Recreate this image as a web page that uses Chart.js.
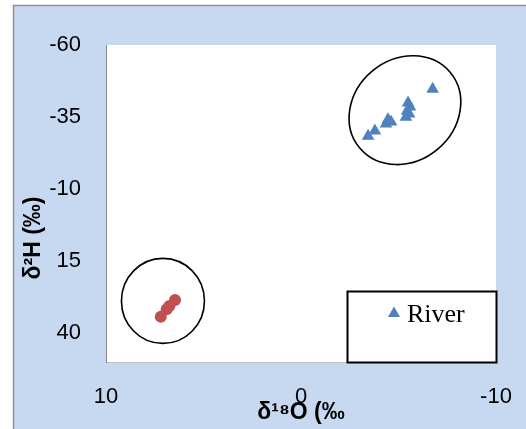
<!DOCTYPE html>
<html>
<head>
<meta charset="utf-8">
<title>δ18O vs δ2H</title>
<script src="https://cdn.jsdelivr.net/npm/chart.js@4.4.1/dist/chart.umd.min.js"></script>
<style>
  html, body { margin: 0; padding: 0; background: #ffffff; }
  canvas { display: block; }
</style>
</head>
<body>
<canvas id="chart" width="526" height="429"></canvas>
<script>
// Isotope samples: δ18O (‰) on x, δ2H (‰) on y
const riverO18 = [-6.75, -5.49, -5.59, -5.44, -5.54, -5.38, -4.46, -4.62, -4.36, -3.79, -3.44];
const riverH2  = [-44.7, -39.9, -38.5, -37.1, -36.1, -35.0, -34.1, -33.3, -32.6, -30.2, -28.4];

const secondO18 = [6.46, 6.75, 6.89, 7.19];
const secondH2  = [28.5, 30.6, 31.7, 34.3];

const xTicks = [10, 0, -10];
const yTicks = [-60, -35, -10, 15, 40];

// Group outlines: centre given in data units
const groupCentreO18 = [-5.33, 7.08];
const groupCentreH2  = [-37.4, 28.8];

const BG_BLUE = '#c6d9f0';
const RIVER_BLUE = '#4f81bd';
const DOT_RED = '#c0504d';

function pairs(xs, ys) { return xs.map((x, i) => ({ x, y: ys[i] })); }

// Outline sizes for each group (pixels) and tilt
const outlineStyle = [
  { rx: 59, ry: 51, rot: -40 },
  { rx: 41.5, ry: 42.5, rot: 0 }
];

const frame = {
  id: 'frame',
  beforeDraw(chart) {
    const { ctx, chartArea: a } = chart;
    ctx.save();
    ctx.fillStyle = '#ffffff';
    ctx.fillRect(0, 0, chart.width, chart.height);
    ctx.fillStyle = BG_BLUE;
    ctx.fillRect(13, 5, chart.width - 13, chart.height - 5);
    ctx.strokeStyle = '#909090';
    ctx.lineWidth = 1.5;
    ctx.beginPath();
    ctx.moveTo(13.5, chart.height);
    ctx.lineTo(13.5, 5.5);
    ctx.lineTo(chart.width, 5.5);
    ctx.stroke();
    ctx.fillStyle = '#ffffff';
    ctx.fillRect(a.left, a.top, a.right - a.left, a.bottom - a.top);
    ctx.restore();
  },
  afterDatasetsDraw(chart) {
    const { ctx, scales: { x, y } } = chart;
    ctx.save();
    // group outlines
    ctx.strokeStyle = '#000000';
    ctx.lineWidth = 1.6;
    groupCentreO18.forEach((cx, i) => {
      const s = outlineStyle[i];
      ctx.beginPath();
      ctx.ellipse(x.getPixelForValue(cx), y.getPixelForValue(groupCentreH2[i]),
                  s.rx, s.ry, s.rot * Math.PI / 180, 0, Math.PI * 2);
      ctx.stroke();
    });
    // y axis title
    ctx.fillStyle = '#000000';
    ctx.font = 'bold 23px "Liberation Sans", Arial, sans-serif';
    ctx.textAlign = 'center';
    ctx.textBaseline = 'middle';
    ctx.translate(34, 238);
    ctx.rotate(-Math.PI / 2);
    ctx.fillText('δ²H (‰)', 0, 0);
    ctx.restore();

    // legend box
    ctx.save();
    const ds = chart.data.datasets[0];
    ctx.fillStyle = '#ffffff';
    ctx.fillRect(347.5, 291.5, 149, 71);
    ctx.strokeStyle = '#000000';
    ctx.lineWidth = 2;
    ctx.strokeRect(347.5, 291.5, 149, 71);
    const r = 7;
    const mx = 394, my = 313.5;
    ctx.fillStyle = ds.backgroundColor;
    ctx.beginPath();
    ctx.moveTo(mx, my - r);
    ctx.lineTo(mx + r * Math.sin(2 * Math.PI / 3), my + r / 2);
    ctx.lineTo(mx - r * Math.sin(2 * Math.PI / 3), my + r / 2);
    ctx.closePath();
    ctx.fill();
    ctx.fillStyle = '#000000';
    ctx.font = '26px "Liberation Serif", "Times New Roman", serif';
    ctx.textAlign = 'left';
    ctx.textBaseline = 'alphabetic';
    ctx.fillText(ds.label, 407, 322);
    ctx.restore();
  }
};

new Chart(document.getElementById('chart'), {
  type: 'scatter',
  data: {
    datasets: [
      {
        label: 'River',
        data: pairs(riverO18, riverH2),
        pointStyle: 'triangle',
        pointRadius: 7.3,
        pointHoverRadius: 7.3,
        backgroundColor: RIVER_BLUE,
        borderWidth: 0
      },
      {
        label: 'Other',
        data: pairs(secondO18, secondH2),
        pointStyle: 'circle',
        pointRadius: 6,
        pointHoverRadius: 6,
        backgroundColor: DOT_RED,
        borderWidth: 0
      }
    ]
  },
  options: {
    responsive: false,
    animation: false,
    devicePixelRatio: 1,
    layout: { padding: { top: 45, right: 30, left: 0, bottom: 0 } },
    plugins: { legend: { display: false }, tooltip: { enabled: false } },
    scales: {
      x: {
        type: 'linear', position: 'bottom', reverse: true, min: -10, max: 10,
        afterBuildTicks: s => { s.ticks = xTicks.map(v => ({ value: v })); },
        afterFit: s => { s.height = 67; s.paddingLeft = 0; s.paddingRight = 0; },
        grid: { display: false, drawTicks: false, tickLength: 0 },
        border: { display: true, color: '#bfbfbf', width: 1 },
        ticks: { color: '#000000', padding: 22, maxRotation: 0,
                 font: { family: '"Liberation Sans", Arial, sans-serif', size: 22 } },
        title: { display: true, text: 'δ¹⁸O (‰', color: '#000000', padding: { top: 0, bottom: 3 },
                 font: { family: '"Liberation Sans", Arial, sans-serif', size: 23, weight: 'bold' } }
      },
      y: {
        type: 'linear', reverse: true, min: -60, max: 50,
        afterBuildTicks: s => { s.ticks = yTicks.map(v => ({ value: v })); },
        afterFit: s => { s.width = 106; },
        grid: { display: false, drawTicks: false, tickLength: 0 },
        border: { display: true, color: '#868686', width: 1 },
        ticks: { color: '#000000', padding: 25,
                 font: { family: '"Liberation Sans", Arial, sans-serif', size: 22 } }
      }
    }
  },
  plugins: [frame]
});
</script>
</body>
</html>
